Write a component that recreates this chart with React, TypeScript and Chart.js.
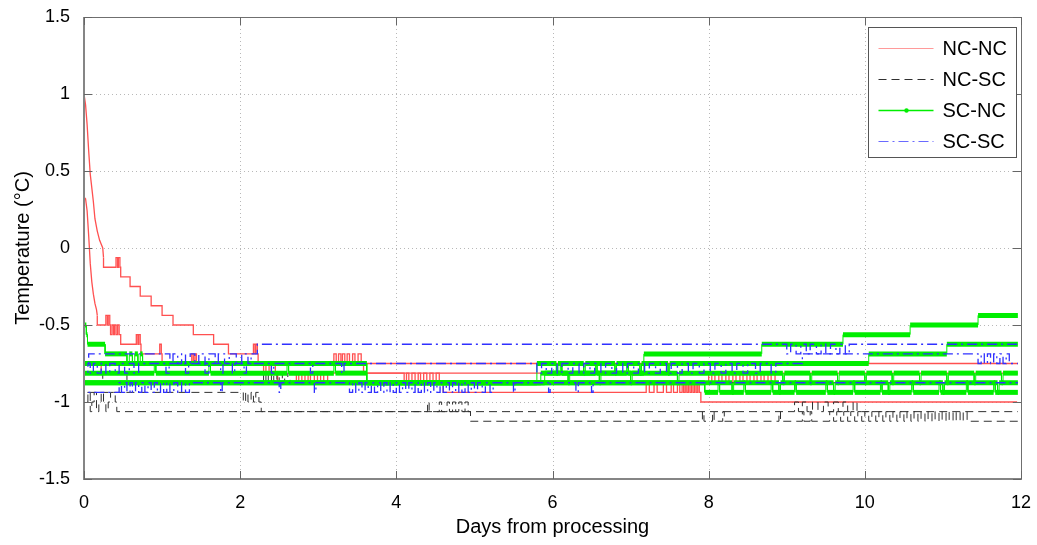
import React, { useEffect, useRef } from "react";
import { Chart, registerables } from "chart.js";

Chart.register(...registerables);

type Pt = [number, number];

// Axis ticks
const dayTicks = [0, 2, 4, 6, 8, 10, 12];
const tempTicks = [-1.5, -1, -0.5, 0, 0.5, 1, 1.5];
const seriesNames = ["NC-NC", "NC-SC", "SC-NC", "SC-SC"];

// ---- NC-NC sensors (days, °C) ----
const ncnc1Decay: Pt[] = [
  [0, 1.0], [0.02, 0.93], [0.04, 0.8], [0.06, 0.63], [0.08, 0.48], [0.1, 0.39],
  [0.12, 0.3], [0.14, 0.19], [0.17, 0.11], [0.2, 0.05], [0.24, 0.0], [0.25, -0.0625],
];
const ncnc1Steps: Pt[] = [
  [0.25, -0.0625], [0.41, -0.125], [0.43, -0.0625], [0.44, -0.125], [0.46, -0.0625], [0.47, -0.125],
  [0.59, -0.1875], [0.72, -0.25], [0.86, -0.3125], [1.0, -0.375], [1.14, -0.4375], [1.4, -0.5],
  [1.66, -0.5625], [1.85, -0.625], [2.17, -0.6875], [2.19, -0.625], [2.2, -0.6875], [2.22, -0.625],
  [2.23, -0.6875], [3.2, -0.75], [3.23, -0.6875], [3.26, -0.75], [3.29, -0.6875], [3.31, -0.75],
  [3.34, -0.6875], [3.37, -0.75], [3.4, -0.6875], [3.44, -0.75], [3.47, -0.6875], [3.51, -0.75],
  [3.55, -0.6875], [3.58, -0.75], [4.1, -0.8125], [4.13, -0.875], [4.16, -0.8125], [4.2, -0.875],
  [4.24, -0.8125], [4.28, -0.875], [4.31, -0.8125], [4.35, -0.875], [4.39, -0.8125], [4.43, -0.875],
  [4.47, -0.8125], [4.51, -0.875], [4.55, -0.8125], [4.6, -0.875], [7.2, -0.9375], [7.24, -0.875],
  [7.3, -0.9375], [7.34, -0.875], [7.42, -0.9375], [7.46, -0.875], [7.52, -0.9375], [7.55, -0.875],
  [7.6, -0.9375], [7.63, -0.875], [7.66, -0.9375], [7.68, -0.875], [7.7, -0.9375], [7.72, -0.875],
  [7.74, -0.9375], [7.76, -0.875], [7.78, -0.9375], [7.8, -0.875], [7.82, -0.9375], [7.84, -0.875],
  [7.86, -0.9375], [7.88, -0.875], [7.9, -0.9375], [11.9, -1.0], [11.95, -1.0],
];
const ncnc2Decay: Pt[] = [
  [0, 0.33], [0.02, 0.32], [0.04, 0.24], [0.06, 0.08], [0.08, -0.1], [0.1, -0.22],
  [0.12, -0.3], [0.14, -0.36], [0.16, -0.4], [0.17, -0.4375],
];
const ncnc2Steps: Pt[] = [
  [0.17, -0.4375], [0.28, -0.5], [0.3, -0.4375], [0.31, -0.5], [0.33, -0.4375], [0.34, -0.5],
  [0.36, -0.5625], [0.38, -0.5], [0.39, -0.5625], [0.41, -0.5], [0.43, -0.5625], [0.45, -0.5],
  [0.47, -0.5625], [0.67, -0.625], [0.69, -0.5625], [0.7, -0.625], [0.72, -0.5625], [0.73, -0.625],
  [0.97, -0.6875], [0.99, -0.625], [1.0, -0.6875], [1.38, -0.75], [1.4, -0.6875], [1.42, -0.75],
  [1.44, -0.6875], [1.45, -0.75], [11.96, -0.75],
];
const ncnc3Steps: Pt[] = [
  [0, -0.75], [0.22, -0.8125], [2.3, -0.75], [2.33, -0.8125], [2.37, -0.75], [2.4, -0.8125],
  [2.45, -0.75], [2.48, -0.8125], [2.72, -0.875], [2.75, -0.8125], [2.79, -0.875], [2.83, -0.8125],
  [2.87, -0.875], [2.9, -0.8125], [2.95, -0.875], [2.99, -0.8125], [3.03, -0.875], [3.07, -0.8125],
  [3.12, -0.875], [8.0, -0.8125], [8.04, -0.875], [8.08, -0.8125], [8.13, -0.875], [8.17, -0.8125],
  [8.22, -0.875], [8.26, -0.8125], [8.31, -0.875], [8.35, -0.8125], [8.4, -0.875], [8.44, -0.8125],
  [8.49, -0.875], [8.53, -0.8125], [8.58, -0.875], [8.62, -0.8125], [8.67, -0.875], [8.71, -0.8125],
  [8.76, -0.875], [8.8, -0.8125], [8.85, -0.875], [8.9, -0.8125], [11.96, -0.8125],
];

// ---- NC-SC sensors ----
const ncsc1: Pt[] = [
  [0, -0.9375], [0.05, -1.0], [0.08, -0.9375], [0.1, -1.0625], [0.13, -1.0], [0.16, -0.9375],
  [0.19, -1.0625], [0.22, -1.0], [0.25, -0.9375], [0.28, -1.0], [0.31, -1.0625], [0.34, -1.0],
  [0.4, -0.9375], [0.42, -1.0], [9.1, -1.0625], [9.15, -1.0], [9.2, -1.0625], [9.26, -1.0],
  [9.33, -1.0625], [9.4, -1.0], [9.47, -1.0625], [9.53, -1.0], [9.6, -1.0625], [9.66, -1.0],
  [9.72, -1.0625], [9.78, -1.0], [9.85, -1.0625], [9.9, -1.0], [9.95, -1.0625], [11.96, -1.0625],
];
const ncsc2: Pt[] = [
  [0, -1.0], [2.04, -0.9375], [2.07, -1.0], [2.1, -0.9375], [2.14, -1.0], [2.17, -0.9375],
  [2.2, -1.0], [2.24, -0.9375], [2.27, -1.0], [4.4, -1.0625], [4.42, -1.0], [4.55, -1.0625],
  [4.58, -1.0], [4.65, -1.0625], [4.68, -1.0], [4.72, -1.0625], [4.76, -1.0], [4.8, -1.0625],
  [4.84, -1.0], [4.88, -1.0625], [4.92, -1.0], [4.95, -1.0625], [7.92, -1.125], [7.94, -1.0625],
  [8.05, -1.125], [8.07, -1.0625], [8.18, -1.125], [8.2, -1.0625], [8.9, -1.125], [8.92, -1.0625],
  [9.2, -1.125], [9.22, -1.0625], [9.3, -1.125], [9.32, -1.0625], [9.55, -1.125], [9.6, -1.0625],
  [9.64, -1.125], [9.69, -1.0625], [9.73, -1.125], [9.78, -1.0625], [9.82, -1.125], [9.87, -1.0625],
  [9.91, -1.125], [9.96, -1.0625], [10.0, -1.125], [10.05, -1.0625], [10.09, -1.125], [10.14, -1.0625],
  [10.18, -1.125], [10.23, -1.0625], [10.27, -1.125], [10.32, -1.0625], [10.36, -1.125], [10.41, -1.0625],
  [10.45, -1.125], [10.5, -1.0625], [10.54, -1.125], [10.59, -1.0625], [10.63, -1.125], [10.68, -1.0625],
  [10.72, -1.125], [10.77, -1.0625], [10.81, -1.125], [10.86, -1.0625], [10.9, -1.125], [10.95, -1.0625],
  [10.99, -1.125], [11.04, -1.0625], [11.08, -1.125], [11.13, -1.0625], [11.17, -1.125], [11.22, -1.0625],
  [11.26, -1.125], [11.31, -1.0625], [11.36, -1.125], [11.96, -1.125],
];
const ncsc3: Pt[] = [
  [0, -0.75], [0.24, -0.8125], [0.55, -0.875], [2.3, -0.8125], [2.33, -0.875], [2.36, -0.8125],
  [2.4, -0.875], [2.43, -0.8125], [2.47, -0.875], [2.5, -0.8125], [2.54, -0.875], [2.57, -0.8125],
  [2.61, -0.875], [2.64, -0.8125], [2.68, -0.875], [11.96, -0.875],
];

// ---- SC-NC sensors ----
const scnc1: Pt[] = [
  [0, -0.875], [8.3, -0.9375], [8.32, -0.875], [8.9, -0.9375], [8.92, -0.875], [9.6, -0.9375],
  [9.62, -0.875], [10.3, -0.9375], [10.32, -0.875], [11.0, -0.9375], [11.02, -0.875], [11.7, -0.9375],
  [11.72, -0.875], [11.96, -0.875],
];
const scnc2: Pt[] = [
  [0, -0.5], [0.03, -0.5625], [0.045, -0.625], [0.27, -0.6875], [0.55, -0.75], [0.58, -0.6875],
  [0.62, -0.75], [0.65, -0.6875], [0.69, -0.75], [0.72, -0.6875], [0.75, -0.75], [3.62, -0.875],
  [5.8, -0.75], [6.05, -0.8125], [6.07, -0.75], [6.4, -0.8125], [6.42, -0.75], [6.8, -0.8125],
  [6.82, -0.75], [7.12, -0.8125], [7.14, -0.75], [7.48, -0.8125], [7.5, -0.75], [10.05, -0.6875],
  [11.05, -0.625], [11.96, -0.625],
];
const scnc3: Pt[] = [
  [0, -0.8125], [0.9, -0.75], [0.92, -0.8125], [1.6, -0.75], [1.62, -0.8125], [2.6, -0.75],
  [2.62, -0.8125], [3.2, -0.75], [3.22, -0.8125], [3.62, -0.875], [5.85, -0.8125], [6.1, -0.75],
  [6.12, -0.8125], [6.55, -0.75], [6.57, -0.8125], [6.95, -0.75], [6.97, -0.8125], [7.17, -0.6875],
  [8.68, -0.625], [9.72, -0.5625], [10.58, -0.5], [11.45, -0.4375], [11.96, -0.4375],
];
const scnc4: Pt[] = [
  [0, -0.75], [3.62, -0.875], [5.9, -0.8125], [6.2, -0.875], [6.22, -0.8125], [6.6, -0.875],
  [6.62, -0.8125], [7.0, -0.875], [7.02, -0.8125], [7.6, -0.875], [7.62, -0.8125], [8.95, -0.875],
  [8.97, -0.8125], [9.3, -0.875], [9.32, -0.8125], [9.65, -0.875], [9.67, -0.8125], [10.0, -0.875],
  [10.02, -0.8125], [10.35, -0.875], [10.37, -0.8125], [10.7, -0.875], [10.72, -0.8125], [11.05, -0.875],
  [11.07, -0.8125], [11.4, -0.875], [11.42, -0.8125], [11.75, -0.875], [11.77, -0.8125], [11.96, -0.8125],
];
const scnc5: Pt[] = [
  [0, -0.875], [7.95, -0.9375], [8.12, -0.875], [8.14, -0.9375], [8.45, -0.875], [8.47, -0.9375],
  [8.8, -0.875], [8.82, -0.9375], [9.1, -0.875], [9.12, -0.9375], [9.5, -0.875], [9.52, -0.9375],
  [9.85, -0.875], [9.87, -0.9375], [10.2, -0.875], [10.22, -0.9375], [10.6, -0.875], [10.62, -0.9375],
  [10.95, -0.875], [10.97, -0.9375], [11.3, -0.875], [11.32, -0.9375], [11.65, -0.875], [11.67, -0.9375],
  [11.96, -0.9375],
];

// ---- SC-SC sensors ----
const scsc1: Pt[] = [
  [0, -0.6875], [0.06, -0.75], [1.1, -0.6875], [1.14, -0.75], [1.2, -0.6875], [1.25, -0.75],
  [1.3, -0.6875], [1.36, -0.75], [1.42, -0.6875], [1.47, -0.75], [1.55, -0.6875], [1.6, -0.75],
  [1.68, -0.6875], [1.72, -0.75], [1.8, -0.6875], [1.86, -0.75], [1.95, -0.6875], [2.02, -0.75],
  [2.1, -0.6875], [2.14, -0.75], [2.22, -0.6875], [9.0, -0.625], [9.05, -0.6875], [9.12, -0.625],
  [9.18, -0.6875], [9.25, -0.625], [9.3, -0.6875], [9.38, -0.625], [9.44, -0.6875], [9.5, -0.625],
  [9.56, -0.6875], [9.63, -0.625], [9.68, -0.6875], [9.75, -0.625], [9.8, -0.6875], [9.88, -0.625],
  [11.96, -0.625],
];
const scsc2: Pt[] = [
  [0, -0.75], [0.05, -0.8125], [0.08, -0.75], [0.12, -0.8125], [0.17, -0.75], [0.22, -0.8125],
  [0.28, -0.75], [0.33, -0.8125], [0.4, -0.75], [0.45, -0.8125], [0.52, -0.75], [0.58, -0.8125],
  [0.64, -0.75], [0.7, -0.8125], [1.05, -0.75], [1.09, -0.8125], [1.3, -0.75], [1.34, -0.8125],
  [1.55, -0.75], [1.6, -0.8125], [1.75, -0.75], [1.78, -0.8125], [1.9, -0.75], [1.93, -0.8125],
  [2.05, -0.75], [2.08, -0.8125], [2.4, -0.75], [2.43, -0.8125], [2.9, -0.75], [2.93, -0.8125],
  [3.3, -0.75], [3.33, -0.8125], [5.8, -0.75], [5.86, -0.8125], [5.92, -0.75], [5.99, -0.8125],
  [6.06, -0.75], [6.12, -0.8125], [6.2, -0.75], [6.26, -0.8125], [6.34, -0.75], [6.4, -0.8125],
  [6.48, -0.75], [6.54, -0.8125], [6.62, -0.75], [6.68, -0.8125], [6.76, -0.75], [6.82, -0.8125],
  [6.9, -0.75], [6.96, -0.8125], [7.04, -0.75], [7.1, -0.8125], [7.18, -0.75], [7.24, -0.8125],
  [7.32, -0.75], [7.38, -0.8125], [7.46, -0.75], [7.52, -0.8125], [7.6, -0.75], [7.66, -0.8125],
  [7.74, -0.75], [7.8, -0.8125], [7.88, -0.75], [7.94, -0.8125], [8.02, -0.75], [8.08, -0.8125],
  [8.16, -0.75], [8.22, -0.8125], [8.3, -0.75], [8.36, -0.8125], [8.44, -0.75], [8.5, -0.8125],
  [8.6, -0.75], [8.66, -0.8125], [8.8, -0.75], [8.86, -0.8125], [9.2, -0.75], [11.45, -0.6875],
  [11.49, -0.75], [11.53, -0.6875], [11.57, -0.75], [11.61, -0.6875], [11.65, -0.75], [11.69, -0.6875],
  [11.73, -0.75], [11.77, -0.6875], [11.81, -0.75], [11.85, -0.6875], [11.89, -0.75], [11.96, -0.75],
];
const scsc3: Pt[] = [
  [0, -0.875], [0.45, -0.9375], [0.48, -0.875], [0.52, -0.9375], [0.55, -0.875], [0.59, -0.9375],
  [0.62, -0.875], [0.66, -0.9375], [0.7, -0.875], [0.74, -0.9375], [0.78, -0.875], [0.82, -0.9375],
  [0.86, -0.875], [0.9, -0.9375], [0.94, -0.875], [0.98, -0.9375], [1.02, -0.875], [1.06, -0.9375],
  [1.1, -0.875], [1.15, -0.9375], [1.2, -0.875], [1.25, -0.9375], [1.3, -0.875], [1.35, -0.9375],
  [1.75, -0.875], [1.77, -0.9375], [2.5, -0.875], [2.52, -0.9375], [2.95, -0.875], [2.97, -0.9375],
  [3.4, -0.875], [3.44, -0.9375], [3.48, -0.875], [3.52, -0.9375], [3.56, -0.875], [3.6, -0.9375],
  [3.64, -0.875], [3.68, -0.9375], [3.72, -0.875], [3.76, -0.9375], [3.8, -0.875], [3.84, -0.9375],
  [3.88, -0.875], [3.92, -0.9375], [3.96, -0.875], [4.0, -0.9375], [4.04, -0.875], [4.08, -0.9375],
  [4.12, -0.875], [4.16, -0.9375], [4.2, -0.875], [4.24, -0.9375], [4.28, -0.875], [4.32, -0.9375],
  [4.36, -0.875], [4.4, -0.9375], [4.44, -0.875], [4.48, -0.9375], [4.52, -0.875], [4.56, -0.9375],
  [4.6, -0.875], [4.64, -0.9375], [4.68, -0.875], [4.72, -0.9375], [4.76, -0.875], [4.8, -0.9375],
  [4.84, -0.875], [4.88, -0.9375], [4.92, -0.875], [4.96, -0.9375], [5.0, -0.875], [5.04, -0.9375],
  [5.1, -0.875], [5.14, -0.9375], [5.2, -0.875], [5.24, -0.9375], [5.5, -0.875], [5.52, -0.9375],
  [5.95, -0.875], [5.97, -0.9375], [6.3, -0.875], [6.33, -0.9375], [6.5, -0.875], [6.52, -0.9375],
  [7.2, -0.875], [11.96, -0.875],
];

const FONT = "'Liberation Sans', Arial, Helvetica, sans-serif";

const lineStyles: Record<string, { color: string; dash: number[]; width: number }> = {
  "NC-NC": { color: "#ff5050", dash: [], width: 1.3 },
  "NC-SC": { color: "#303030", dash: [8, 5], width: 1 },
  "SC-NC": { color: "#00ee00", dash: [], width: 5 },
  "SC-SC": { color: "#3030ff", dash: [10, 4, 2, 4], width: 1.3 },
};
const drawOrder: Record<string, number> = { "NC-NC": 4, "NC-SC": 3, "SC-NC": 2, "SC-SC": 1 };

const toXY = (pts: Pt[]) => pts.map(([x, y]) => ({ x, y }));
// step function written out as horizontal + vertical segments
const toCorners = (pts: Pt[]) => {
  const out: { x: number; y: number }[] = [];
  pts.forEach(([x, y], i) => {
    if (i > 0) out.push({ x, y: pts[i - 1][1] });
    out.push({ x, y });
  });
  return out;
};

function lineSet(name: string, pts: Pt[], stepped: boolean) {
  const s = lineStyles[name];
  return {
    label: name,
    data: toXY(pts),
    borderColor: s.color,
    borderWidth: s.width,
    borderDash: s.dash,
    stepped: stepped ? ("after" as const) : false,
    pointRadius: 0,
    fill: false,
    order: drawOrder[name],
  };
}

// marker-heavy sensor traces: thick on the level runs, thin on the jumps
function dottedSet(name: string, pts: Pt[]) {
  const s = lineStyles[name];
  return {
    label: name,
    data: toCorners(pts),
    borderColor: s.color,
    borderWidth: s.width,
    pointRadius: 0,
    fill: false,
    order: drawOrder[name],
    segment: {
      borderWidth: (c: any) => (c.p0.parsed.x === c.p1.parsed.x ? 1 : s.width),
    },
  };
}

const gridAndFrame = {
  id: "gridAndFrame",
  beforeDatasetsDraw(chart: any) {
    const { ctx, chartArea: a, scales } = chart;
    ctx.save();
    ctx.strokeStyle = "#b8b8b8";
    ctx.lineWidth = 1;
    ctx.setLineDash([1, 3]);
    dayTicks.forEach((v) => {
      if (v <= 0 || v >= 12) return;
      const px = Math.round(scales.x.getPixelForValue(v)) + 0.5;
      ctx.beginPath();
      ctx.moveTo(px, a.top);
      ctx.lineTo(px, a.bottom);
      ctx.stroke();
    });
    tempTicks.forEach((v) => {
      if (v <= -1.5 || v >= 1.5) return;
      const py = Math.round(scales.y.getPixelForValue(v)) + 0.5;
      ctx.beginPath();
      ctx.moveTo(a.left, py);
      ctx.lineTo(a.right, py);
      ctx.stroke();
    });
    ctx.restore();
  },
  afterDatasetsDraw(chart: any) {
    const { ctx, chartArea: a, scales } = chart;
    ctx.save();
    ctx.setLineDash([]);
    ctx.strokeStyle = "#6f6f6f";
    ctx.lineWidth = 1;
    ctx.beginPath();
    ctx.moveTo(a.left, a.top + 0.5);
    ctx.lineTo(a.right + 0.5, a.top + 0.5);
    ctx.lineTo(a.right + 0.5, a.bottom);
    ctx.stroke();
    ctx.strokeStyle = "#858585";
    ctx.lineWidth = 2;
    ctx.beginPath();
    ctx.moveTo(a.left, a.top);
    ctx.lineTo(a.left, a.bottom);
    ctx.lineTo(a.right + 1, a.bottom);
    ctx.stroke();
    // inward tick marks
    ctx.lineWidth = 1;
    ctx.strokeStyle = "#666";
    const len = 8;
    dayTicks.forEach((v) => {
      const px = Math.round(scales.x.getPixelForValue(v)) + 0.5;
      ctx.beginPath();
      ctx.moveTo(px, a.bottom);
      ctx.lineTo(px, a.bottom - len);
      ctx.moveTo(px, a.top);
      ctx.lineTo(px, a.top + len);
      ctx.stroke();
    });
    tempTicks.forEach((v) => {
      const py = Math.round(scales.y.getPixelForValue(v)) + 0.5;
      ctx.beginPath();
      ctx.moveTo(a.left, py);
      ctx.lineTo(a.left + len, py);
      ctx.moveTo(a.right, py);
      ctx.lineTo(a.right - len, py);
      ctx.stroke();
    });
    ctx.restore();
  },
};

const boxLegend = {
  id: "boxLegend",
  afterDraw(chart: any) {
    const { ctx, chartArea: a } = chart;
    const w = 148;
    const h = 130;
    const x0 = Math.round(a.right - 5 - w) + 0.5;
    const y0 = Math.round(a.top + 10) + 0.5;
    ctx.save();
    ctx.fillStyle = "#fff";
    ctx.fillRect(x0, y0, w, h);
    ctx.strokeStyle = "#555";
    ctx.lineWidth = 1;
    ctx.setLineDash([]);
    ctx.strokeRect(x0, y0, w, h);
    ctx.font = `20px ${FONT}`;
    ctx.textBaseline = "middle";
    ctx.textAlign = "left";
    seriesNames.forEach((name, i) => {
      const s = lineStyles[name];
      const yy = Math.round(y0 + 20 + i * 31) + 0.5;
      ctx.strokeStyle = name === "NC-NC" ? "#ff9a9a" : name === "SC-SC" ? "#6a6aff" : s.color;
      ctx.lineWidth = name === "SC-NC" ? 1.5 : 1.2;
      ctx.setLineDash(s.dash);
      ctx.beginPath();
      ctx.moveTo(x0 + 10, yy);
      ctx.lineTo(x0 + 65, yy);
      ctx.stroke();
      if (name === "SC-NC") {
        ctx.fillStyle = s.color;
        ctx.beginPath();
        ctx.arc(x0 + 38, yy, 2.2, 0, Math.PI * 2);
        ctx.fill();
      }
      ctx.setLineDash([]);
      ctx.fillStyle = "#000";
      ctx.fillText(name, x0 + 74, yy + 1);
    });
    ctx.restore();
  },
};

export default function App() {
  const ref = useRef<HTMLCanvasElement>(null);
  useEffect(() => {
    if (!ref.current) return;
    const datasets: any[] = [
      lineSet("NC-NC", ncnc1Decay, false),
      lineSet("NC-NC", ncnc1Steps, true),
      lineSet("NC-NC", ncnc2Decay, false),
      lineSet("NC-NC", ncnc2Steps, true),
      lineSet("NC-NC", ncnc3Steps, true),
      lineSet("NC-SC", ncsc1, true),
      lineSet("NC-SC", ncsc2, true),
      lineSet("NC-SC", ncsc3, true),
      dottedSet("SC-NC", scnc1),
      dottedSet("SC-NC", scnc2),
      dottedSet("SC-NC", scnc3),
      dottedSet("SC-NC", scnc4),
      dottedSet("SC-NC", scnc5),
      lineSet("SC-SC", scsc1, true),
      lineSet("SC-SC", scsc2, true),
      lineSet("SC-SC", scsc3, true),
    ];
    const chart = new Chart(ref.current, {
      type: "line",
      data: { datasets },
      options: {
        animation: false,
        responsive: false,
        devicePixelRatio: 1,
        events: [],
        layout: { padding: { left: 0, right: 16, top: 17, bottom: 0 } },
        plugins: { legend: { display: false }, tooltip: { enabled: false } },
        elements: { line: { tension: 0 } },
        scales: {
          x: {
            type: "linear",
            min: 0,
            max: 12,
            grid: { display: false },
            border: { display: false },
            afterBuildTicks: (s: any) => {
              s.ticks = dayTicks.map((v) => ({ value: v }));
            },
            ticks: {
              autoSkip: false,
              maxRotation: 0,
              padding: 5,
              color: "#000",
              font: { family: FONT, size: 18 },
              callback: (v: any) => String(v),
            },
            title: {
              display: true,
              text: "Days from processing",
              color: "#000",
              font: { family: FONT, size: 20 },
              padding: { top: 0, bottom: 6 },
            },
            afterFit: (s: any) => {
              s.height = 66;
              s.paddingLeft = 0;
              s.paddingRight = 0;
            },
          },
          y: {
            type: "linear",
            min: -1.5,
            max: 1.5,
            grid: { display: false },
            border: { display: false },
            afterBuildTicks: (s: any) => {
              s.ticks = tempTicks.map((v) => ({ value: v }));
            },
            ticks: {
              autoSkip: false,
              padding: 6,
              color: "#000",
              font: { family: FONT, size: 18 },
              callback: (v: any) => String(v),
            },
            title: {
              display: true,
              text: "Temperature (°C)",
              color: "#000",
              font: { family: FONT, size: 20 },
              padding: { top: 11, bottom: 0 },
            },
            afterFit: (s: any) => {
              s.width = 84;
              s.paddingTop = 0;
              s.paddingBottom = 0;
            },
          },
        },
      },
      plugins: [gridAndFrame, boxLegend],
    });
    return () => chart.destroy();
  }, []);
  return (
    <div style={{ position: "fixed", left: 0, top: 0, width: 1037, height: 545, background: "#fff" }}>
      <canvas ref={ref} width={1037} height={545} style={{ display: "block", width: 1037, height: 545 }} />
    </div>
  );
}
